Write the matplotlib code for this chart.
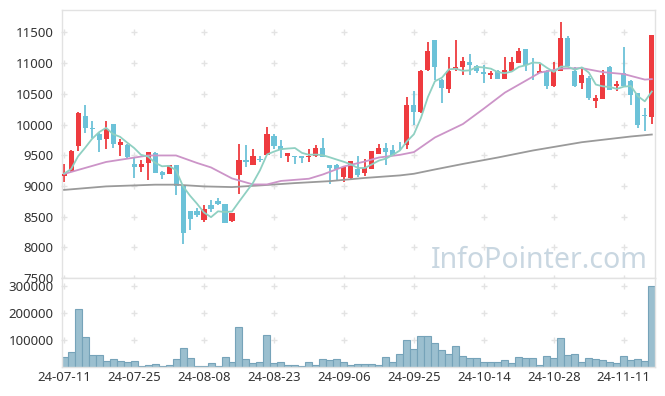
import numpy as np
import pandas as pd
import matplotlib
matplotlib.use('Agg')
import matplotlib.pyplot as plt

# Торговые дни: индекс 0 = 24-07-11, индекс 84 = 24-11-15
tick_pos = [0, 10, 20, 30, 40, 50, 60, 70, 80]
tick_labels = ['24-07-11', '24-07-25', '24-08-08', '24-08-23', '24-09-06',
               '24-09-25', '24-10-14', '24-10-28', '24-11-11']

opens = [9160, 9250, 9650, 10140, 9950, 9850, 9760, 10005, 9670, 9670,
         9360, 9300, 9380, 9540, 9225, 9200, 9335, 9000, 8590, 8590,
         8440, 8685, 8750, 8700, 8425, 9180, 9430, 9345, 9440, 9505,
         9820, 9645, 9480, 9490, 9480, 9465, 9480, 9620, 9335, 9345,
         9145, 9125, 9270, 9210, 9280, 9525, 9625, 9590, 9655, 9670,
         10310, 10200, 10890, 11370, 10730, 10580, 10905, 10930, 11015, 10960,
         10860, 10800, 10880, 10745, 10880, 11000, 11230, 10975, 10845, 10880,
         10620, 10880, 11405, 10865, 10675, 10755, 10390, 10420, 10945, 10620,
         10845, 10715, 10510, 10150, 10130]
highs = [9360, 9580, 10200, 10320, 10050, 9860, 10060, 10010, 9765, 9680,
         9465, 9425, 9550, 9545, 9240, 9340, 9340, 9005, 8595, 8645,
         8685, 8765, 8810, 8705, 8565, 9675, 9660, 9605, 9495, 9965,
         9850, 9750, 9530, 9495, 9485, 9605, 9660, 9775, 9340, 9350,
         9330, 9400, 9495, 9440, 9575, 9675, 9700, 9670, 9720, 10455,
         10550, 10885, 11350, 11375, 10735, 11095, 11380, 11105, 11145, 10965,
         10970, 10865, 10885, 11095, 11095, 11245, 11235, 11080, 10985, 10885,
         11015, 11675, 11445, 10945, 10945, 10795, 10485, 10890, 10950, 10715,
         11260, 10720, 10520, 10270, 11460]
lows = [9065, 9230, 9570, 9860, 9780, 9560, 9605, 9615, 9490, 9460,
        9130, 9225, 9100, 9210, 9110, 9190, 8845, 8060, 8280, 8495,
        8410, 8575, 8685, 8400, 8420, 8875, 9305, 9340, 9385, 9500,
        9605, 9450, 9390, 9360, 9380, 9385, 9475, 9470, 9035, 9090,
        9060, 9120, 9150, 9155, 9275, 9515, 9335, 9490, 9580, 9595,
        9985, 10195, 10880, 10730, 10350, 10510, 10870, 10800, 10810, 10835,
        10675, 10740, 10740, 10740, 10875, 10995, 10865, 10730, 10840, 10580,
        10615, 10865, 10950, 10615, 10575, 10400, 10265, 10415, 10560, 10550,
        10610, 10320, 9945, 9900, 10010]
closes = [9200, 9570, 10190, 9940, 9935, 9740, 9925, 9680, 9720, 9470,
          9300, 9360, 9545, 9215, 9180, 9335, 9000, 8235, 8455, 8525,
          8620, 8620, 8710, 8400, 8565, 9415, 9390, 9480, 9425, 9850,
          9650, 9590, 9530, 9465, 9455, 9495, 9610, 9475, 9290, 9270,
          9315, 9400, 9185, 9290, 9570, 9620, 9560, 9495, 9645, 10310,
          10200, 10880, 11205, 10930, 10600, 10880, 10930, 11035, 10970, 10880,
          10830, 10835, 10745, 10895, 11015, 11205, 10970, 10965, 10865, 10620,
          10865, 11405, 10955, 10620, 10810, 10440, 10430, 10810, 10565, 10660,
          10620, 10485, 9985, 10140, 11460]
# закрытия четырёх дней до начала графика (для MA5)
pre_closes = [9200, 9150, 9250, 9200]

volumes = [38600, 57000, 215000, 112000, 46000, 46000, 23900, 31200, 23900, 20200,
           23900, 5500, 9200, 12900, 5500, 9200, 31200, 71700, 34900, 5500,
           5500, 16500, 5500, 38600, 20200, 148900, 31200, 16500, 20200, 119500,
           16500, 20200, 9200, 9200, 5500, 20200, 9200, 31200, 27600, 31200,
           20200, 9200, 12900, 12900, 12900, 9200, 38600, 20200, 49600, 101100,
           68000, 115800, 115800, 90000, 64300, 49600, 79000, 42300, 34900, 34900,
           20200, 20200, 20200, 27600, 16500, 38600, 34900, 34900, 9200, 42300,
           34900, 108400, 46000, 49600, 20200, 34900, 31200, 27600, 20200, 16500,
           42300, 27600, 31200, 23900, 299600]

# Скользящие средние 20 и 60
ma20_idx = [0, 6, 12, 16, 19, 21, 24, 27, 29, 31, 35, 37, 40, 43, 45, 48, 50,
            53, 57, 60, 63, 66, 68, 71, 74, 77, 80, 83, 84]
ma20_val = [9195, 9390, 9496, 9496, 9374, 9301, 9122, 9024, 9024, 9081, 9117,
            9187, 9317, 9398, 9463, 9506, 9551, 9789, 10008, 10260, 10520,
            10715, 10846, 10911, 10919, 10854, 10822, 10732, 10740]
ma60_idx = [0, 6, 13, 16, 20, 24, 28, 33, 38, 43, 48, 50, 53, 57, 62, 67, 74, 81, 84]
ma60_val = [8935, 8992, 9020, 9020, 8992, 8981, 9008, 9046, 9078, 9130, 9171,
            9198, 9268, 9358, 9463, 9577, 9712, 9805, 9837]

price_ticks = [7500, 8000, 8500, 9000, 9500, 10000, 10500, 11000, 11500]
volume_ticks = [100000, 200000, 300000]

RED = '#ee3b3f'
BLUE = '#6cc2d8'
GRID = '#e3e3e3'
SPINE = '#e2e2e2'


def draw_plus_grid(ax, xs, ys):
    """Сетка в виде маленьких крестиков на пересечениях делений."""
    gx, gy = np.meshgrid(xs, ys)
    ax.scatter(gx.ravel(), gy.ravel(), marker='+', s=25, color=GRID,
               linewidths=1, zorder=0, clip_on=False)


def style_axes(ax):
    for side in ax.spines:
        ax.spines[side].set_color(SPINE)
        ax.spines[side].set_linewidth(1)
    ax.tick_params(length=0, labelsize=9.5, colors='#333333', pad=6)


def main():
    plt.rcParams['font.family'] = ['Noto Sans', 'DejaVu Sans']
    fig = plt.figure(figsize=(6.65, 3.96), dpi=100)
    ax_p = fig.add_axes([0.0932, 0.298, 0.8917, 0.6768])
    ax_v = fig.add_axes([0.0932, 0.0732, 0.8917, 0.2247], sharex=ax_p)

    idx = np.arange(len(closes))
    o = np.array(opens)
    c = np.array(closes)
    up = c >= o
    colors = np.where(up, RED, BLUE)

    # фитили и тела свечей
    ax_p.vlines(idx, lows, highs, colors=colors, linewidth=1.3, zorder=2)
    body_low = np.minimum(o, c)
    body_h = np.maximum(np.abs(c - o), 12)
    ax_p.bar(idx, body_h, bottom=body_low, width=0.72, color=colors,
             linewidth=0, zorder=3)

    # скользящие средние
    ma5 = pd.Series(pre_closes + closes).rolling(5).mean().to_numpy()[len(pre_closes):]
    ax_p.plot(ma60_idx, ma60_val, color='#9a9a9a', linewidth=1.3, zorder=4)
    ax_p.plot(ma20_idx, ma20_val, color='#cc94c8', linewidth=1.3, zorder=4)
    ax_p.plot(idx, ma5, color='#8fd0c2', linewidth=1.3, zorder=4)

    ax_p.set_ylim(7500, 11866)
    ax_p.set_yticks(price_ticks)
    ax_p.set_xlim(-0.3, 84.45)
    draw_plus_grid(ax_p, tick_pos, price_ticks)
    ax_p.text(0.988, 0.037, 'InfoPointer.com', transform=ax_p.transAxes,
              ha='right', va='baseline', fontsize=20.5, color='#c9d7e1', zorder=1)
    style_axes(ax_p)
    ax_p.tick_params(labelbottom=False)

    # объёмы
    ax_v.bar(idx, volumes, width=1.0, color='#9bbfcf', edgecolor='#76a3b9',
             linewidth=0.8, zorder=2)
    ax_v.set_ylim(0, 330000)
    ax_v.set_yticks(volume_ticks)
    ax_v.set_xticks(tick_pos)
    ax_v.set_xticklabels(tick_labels)
    draw_plus_grid(ax_v, tick_pos, volume_ticks)
    style_axes(ax_v)
    ax_v.tick_params(axis='x', pad=3)

    fig.savefig('out.png', dpi=100)


if __name__ == "__main__":
    main()
